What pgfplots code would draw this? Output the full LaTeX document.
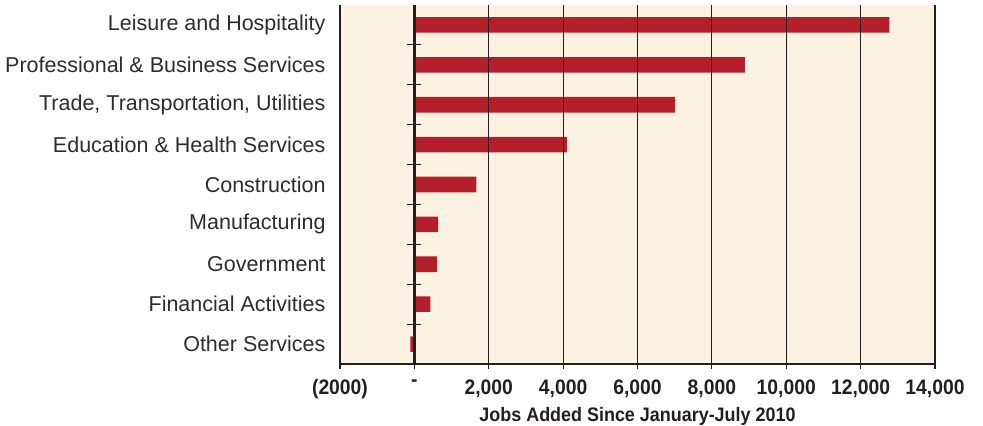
\documentclass[border=0pt]{standalone}
\usepackage{pgfplots}
\pgfplotsset{compat=1.18}
\usepackage{fontspec}
\setmainfont{Liberation Sans}
\newfontfamily\condfont[FakeStretch=0.92]{Liberation Sans}
\definecolor{bg}{HTML}{FCF2E2}
\definecolor{barred}{HTML}{B41F2B}
\definecolor{ink}{HTML}{231F20}
\definecolor{lbl}{HTML}{2E2C2C}
\begin{document}
\begin{tikzpicture}
\begin{axis}[
  name=ax,
  scale only axis,
  width=595bp, height=359bp,
  xmin=-2000, xmax=14000,
  ymin=-0.5, ymax=8.5,
  y dir=reverse,
  scaled x ticks=false,
  axis background/.style={fill=bg},
  axis on top,
  axis x line*=bottom,
  axis y line*=left,
  axis line style={color=ink, line width=1.2bp},
  xtick={-2000,0,2000,4000,6000,8000,10000,12000,14000},
  xticklabels={(2000),-,{2,000},{4,000},{6,000},{8,000},{10,000},{12,000},{14,000}},
  xtick align=outside,
  major tick length=5bp,
  x tick style={color=ink, line width=1.2bp},
  xmajorgrids,
  grid style={color=ink, line width=1.2bp},
  xticklabel style={font=\condfont\bfseries\fontsize{21bp}{22bp}\selectfont, text=ink, yshift=-7bp},
  xlabel={Jobs Added Since January-July 2010},
  xlabel style={font=\condfont\bfseries\fontsize{19.5bp}{21bp}\selectfont, text=ink, yshift=9bp},
  ytick={0,1,2,3,4,5,6,7,8},
  yticklabels={Leisure and Hospitality,Professional \& Business Services,{Trade, Transportation, Utilities},Education \& Health Services,Construction,Manufacturing,Government,Financial Activities,Other Services},
  y tick style={draw=none},
  yticklabel style={font=\fontsize{21.5bp}{23bp}\selectfont, text=lbl, xshift=-11bp},
  extra x ticks={0},
  extra x tick labels={},
  extra x tick style={grid style={color=ink, line width=3bp}, major tick length=5bp, tick style={color=ink, line width=3bp}},
  clip=false,
]
\addplot[xbar, bar width=15.6bp, bar shift=0pt, fill=barred, draw=none] coordinates {
  (12770,0) (8890,1) (7010,2) (4100,3) (1670,4) (640,5) (610,6) (430,7) (-110,8)
};
\addplot[only marks, mark=-, mark size=7bp, mark options={color=ink, line width=1.2bp}] coordinates {
  (0,0.5) (0,1.5) (0,2.5) (0,3.5) (0,4.5) (0,5.5) (0,6.5) (0,7.5)
};
\end{axis}
\pgfresetboundingbox
\path ([xshift=-340bp,yshift=-62bp]ax.south west) rectangle ([xshift=48bp,yshift=5bp]ax.north east);
\end{tikzpicture}
\end{document}
